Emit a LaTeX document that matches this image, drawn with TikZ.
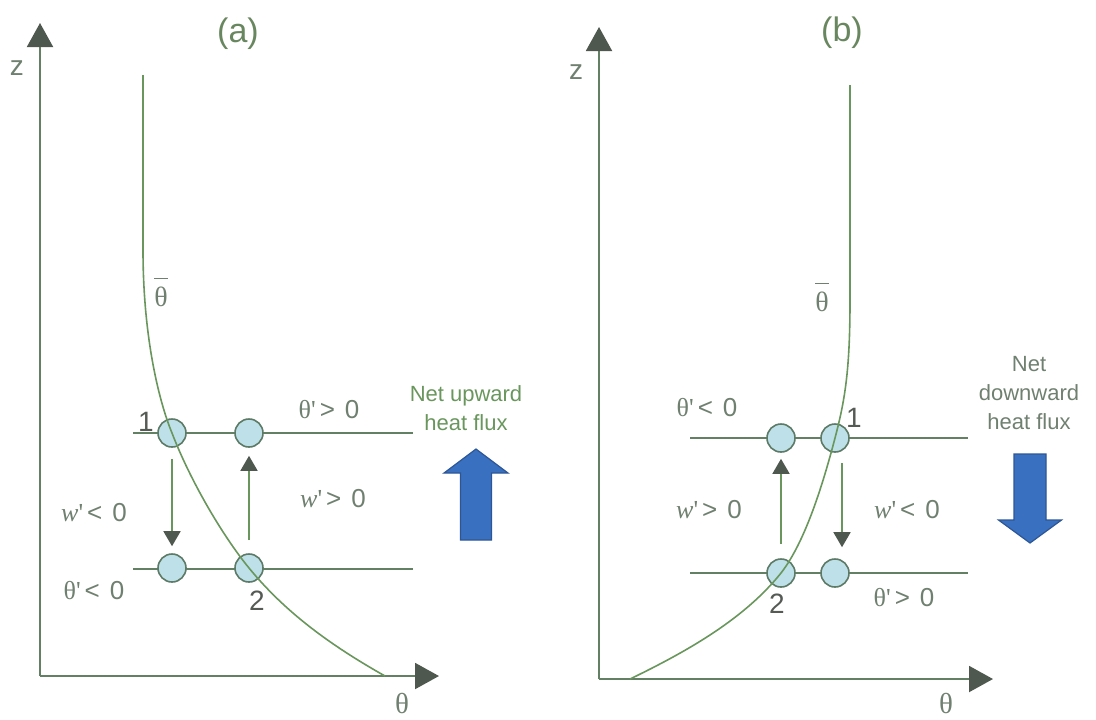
\documentclass[tikz,border=0pt]{standalone}
\usepackage{fontspec}
\setmainfont{Liberation Sans}
\newfontfamily\serf{Liberation Serif}
\usetikzlibrary{arrows.meta, positioning}

\definecolor{axisgreen}{RGB}{100,128,100}
\definecolor{curvegreen}{RGB}{105,150,92}
\definecolor{tipgrey}{RGB}{78,88,78}
\definecolor{textgrey}{RGB}{112,128,112}
\definecolor{numgrey}{RGB}{85,90,85}
\definecolor{titlegreen}{RGB}{105,135,95}
\definecolor{parcelfill}{RGB}{190,224,232}
\definecolor{parceledge}{RGB}{92,122,102}
\definecolor{fluxblue}{RGB}{58,112,192}
\definecolor{fluxedge}{RGB}{44,86,150}

\newcommand{\thprime}{{\serf θ\textquotesingle}}
\newcommand{\wprime}{{\serf\itshape w}{\serf\textquotesingle}}
\newcommand{\meantheta}{$\overline{\vphantom{\rule{0pt}{12.5pt}}\hbox{\serf θ}}$}

\begin{document}
\begin{tikzpicture}[x=0.5pt, y=-0.5pt,
  axis/.style={draw=axisgreen, line width=1pt,
               -{Triangle[length=12pt, width=13pt, color=tipgrey]}},
  level/.style={draw=axisgreen, line width=0.9pt},
  profile/.style={draw=curvegreen, line width=0.8pt},
  parcel/.style={circle, draw=parceledge, fill=parcelfill, line width=0.8pt,
                 minimum size=14pt, inner sep=0pt},
  move/.style={draw=curvegreen, line width=0.8pt,
               -{Triangle[length=7.5pt, width=8.5pt, color=tipgrey]}},
  lbl/.style={text=textgrey, font=\fontsize{13}{15}\selectfont, inner sep=0pt},
  num/.style={text=numgrey, font=\fontsize{14}{16}\selectfont, inner sep=0pt},
  axlbl/.style={text=textgrey, font=\fontsize{14}{16}\selectfont, inner sep=0pt},
  title/.style={text=titlegreen, font=\fontsize{17}{20}\selectfont, inner sep=0pt},
  flux/.style={fill=fluxblue, draw=fluxedge, line width=0.6pt},
  fluxtext/.style={align=center, inner sep=0pt,
                   font=\fontsize{11}{14.5}\selectfont}
]
  \useasboundingbox (0,0) rectangle (1096,719);

  % ---------- (a) net upward flux ----------
  \node[title] (tita) at (238,34) {(a)};

  % axes
  \coordinate (oa) at (40,676);
  \coordinate (za) at (40,23);
  \coordinate (ta) at (439,676);
  \draw[axis] (oa) -- (za);
  \draw[axis] (oa) -- (ta);
  \node[axlbl] (zlbla) at (17,68) {z};
  \node[axlbl, font=\serf\fontsize{14.5}{16}\selectfont] (thlbla) at (402,703) {θ};

  % levels
  \coordinate (ua1) at (133,433);
  \coordinate (ua2) at (413,433);
  \coordinate (la1) at (133,569);
  \coordinate (la2) at (413,569);
  \draw[level] (ua1) -- (ua2);
  \draw[level] (la1) -- (la2);

  % parcels
  \node[parcel] (a1)  at (172,433) {};
  \node[parcel] (a2m) at (249,433) {};
  \node[parcel] (a1m) at (172,568) {};
  \node[parcel] (a2)  at (249,568) {};

  % mean profile
  \draw[profile] (143,75) -- (143,250)
    .. controls (143,340) and (160,404) .. (a1.center)
    .. controls (190,480) and (222,535) .. (a2.center)
    .. controls (285,612) and (330,645) .. (385,676);
  \node[lbl, font=\fontsize{14}{16}\selectfont] (mtha) at (161,292) {\meantheta};

  % displacements
  \draw[move, shorten <=5.5pt, shorten >=3.5pt] (a1) -- (a1m);
  \draw[move, shorten <=6.5pt, shorten >=4pt]   (a2) -- (a2m);

  \node[num] (n1a) at (146,422) {1};
  \node[num] (n2a) at (257,601) {2};
  \node[lbl] (tpa) at (329,410) {\thprime\hspace{2pt}>\hspace{5pt}0};
  \node[lbl] (wpa) at (333,499) {\wprime\hspace{2pt}>\hspace{5pt}0};
  \node[lbl] (wna) at (94,513)  {\wprime\hspace{2pt}<\hspace{5pt}0};
  \node[lbl] (tna) at (94,591)  {\thprime\hspace{2pt}<\hspace{5pt}0};

  % flux
  \node[fluxtext, text=curvegreen] (upflux) at (466,408) {Net upward\\heat flux};
  \coordinate (upt) at (476,449);
  \filldraw[flux] (upt) -- ++(32,24) -- ++(-16.5,0) -- ++(0,67)
    -- ++(-31,0) -- ++(0,-67) -- ++(-16.5,0) -- cycle;

  % ---------- (b) net downward flux ----------
  \node[title] (titb) at (842,33) {(b)};

  % axes
  \coordinate (ob) at (599,679);
  \coordinate (zb) at (599,27);
  \coordinate (tb) at (993,679);
  \draw[axis] (ob) -- (zb);
  \draw[axis] (ob) -- (tb);
  \node[axlbl] (zlblb) at (576,72) {z};
  \node[axlbl, font=\serf\fontsize{14.5}{16}\selectfont] (thlblb) at (946,703) {θ};

  % levels
  \coordinate (ub1) at (690,438);
  \coordinate (ub2) at (968,438);
  \coordinate (lb1) at (690,573);
  \coordinate (lb2) at (968,573);
  \draw[level] (ub1) -- (ub2);
  \draw[level] (lb1) -- (lb2);

  % parcels
  \node[parcel] (b2m) at (781,438) {};
  \node[parcel] (b1)  at (835,438) {};
  \node[parcel] (b2)  at (781,573) {};
  \node[parcel] (b1m) at (835,573) {};

  % mean profile
  \draw[profile] (850,85) -- (850,300)
    .. controls (850,370) and (845,400) .. (b1.center)
    .. controls (824,480) and (806,541) .. (b2.center)
    .. controls (745,618) and (690,650) .. (630,679);
  \node[lbl, font=\fontsize{14}{16}\selectfont] (mthb) at (822,297) {\meantheta};

  % displacements
  \draw[move, shorten <=7pt, shorten >=3pt] (b2) -- (b2m);
  \draw[move, shorten <=5pt, shorten >=5.5pt]
    ([xshift=3.5pt]b1.south) -- ([xshift=3.5pt]b1m.north);

  \node[num] (n1b) at (854,418) {1};
  \node[num] (n2b) at (777,604) {2};
  \node[lbl] (tnb) at (707,408) {\thprime\hspace{2pt}<\hspace{5pt}0};
  \node[lbl] (wpb) at (709,510) {\wprime\hspace{2pt}>\hspace{5pt}0};
  \node[lbl] (wnb) at (907,510) {\wprime\hspace{2pt}<\hspace{5pt}0};
  \node[lbl] (tpb) at (904,598) {\thprime\hspace{2pt}>\hspace{5pt}0};

  % flux
  \node[fluxtext, text=textgrey] (dnflux) at (1029,393) {Net\\downward\\heat flux};
  \coordinate (dnt) at (1030,543);
  \filldraw[flux] (dnt) -- ++(31.5,-23) -- ++(-15.5,0) -- ++(0,-66)
    -- ++(-32,0) -- ++(0,66) -- ++(-15.5,0) -- cycle;
\end{tikzpicture}
\end{document}
